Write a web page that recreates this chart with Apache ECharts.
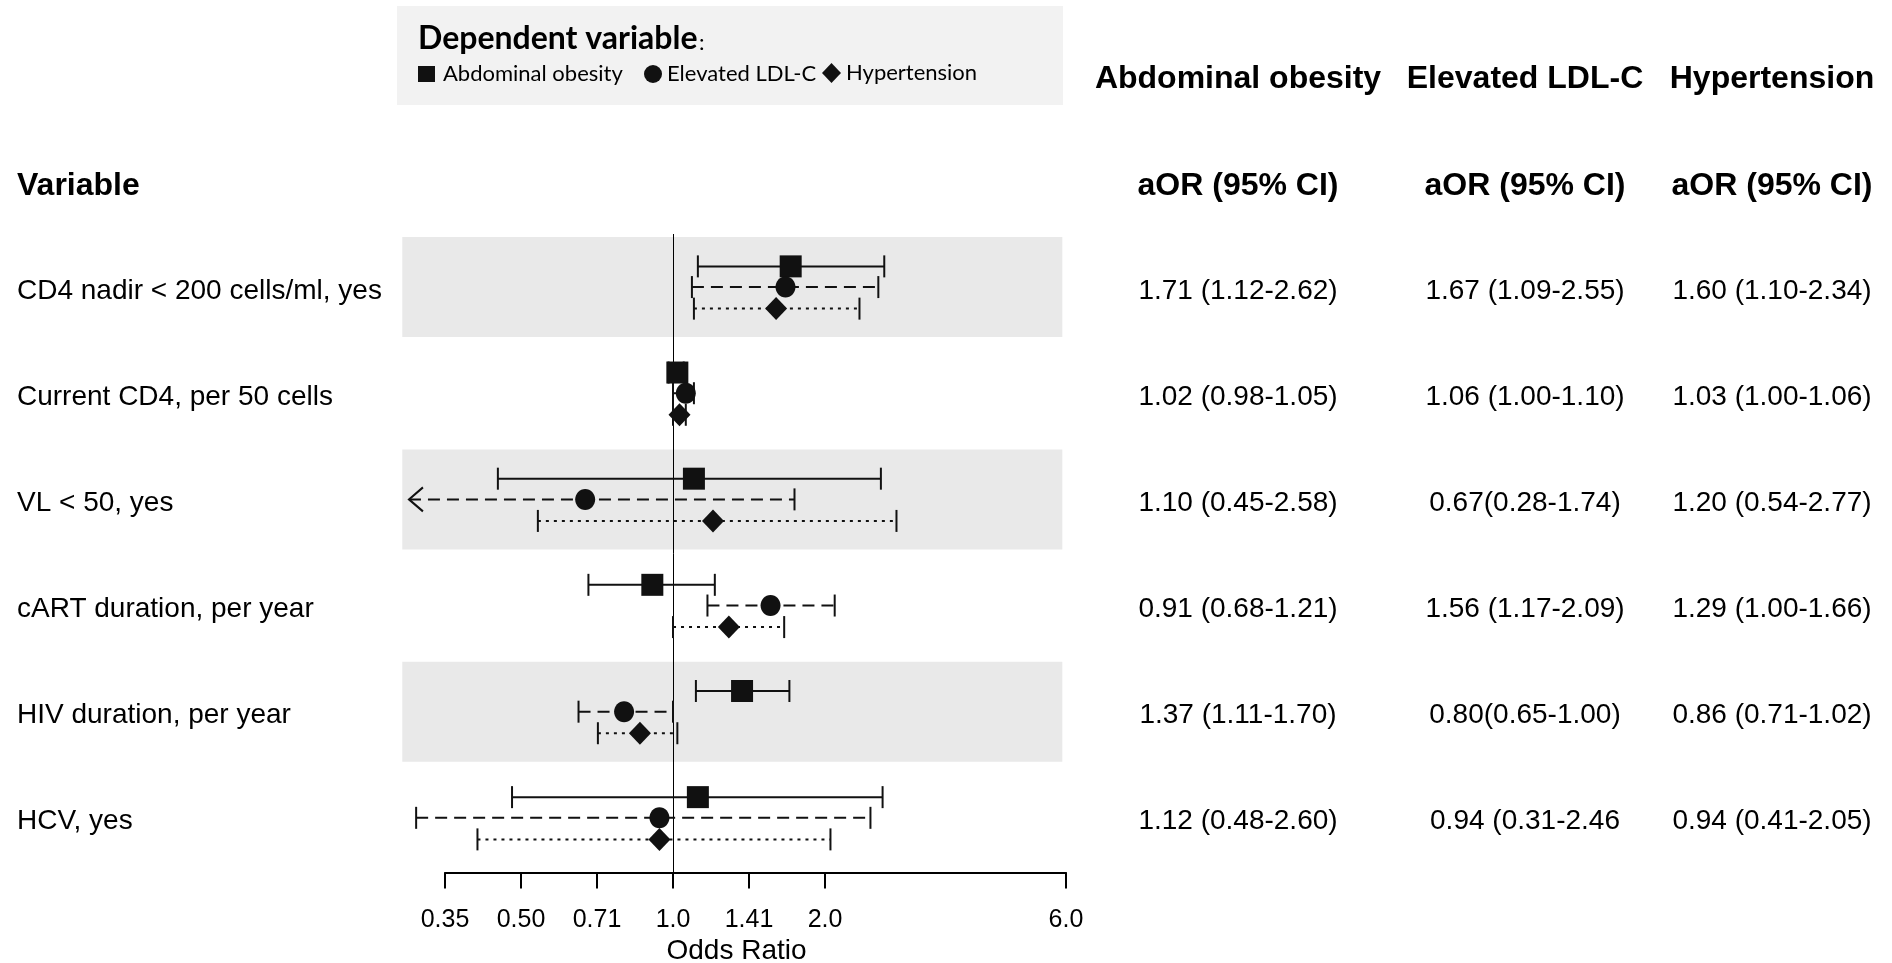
<!DOCTYPE html>
<html><head><meta charset="utf-8">
<script src="https://cdn.jsdelivr.net/npm/echarts@6/dist/echarts.min.js"></script>
<style>html,body{margin:0;padding:0;background:#fff}#chart{width:1892px;height:963px}</style>
</head><body><div id="chart"></div>
<script>
// ---------- data ----------
const variables = ['CD4 nadir < 200 cells/ml, yes', 'Current CD4, per 50 cells', 'VL < 50, yes',
  'cART duration, per year', 'HIV duration, per year', 'HCV, yes'];
const outcomes = ['Abdominal obesity', 'Elevated LDL-C', 'Hypertension'];
const aoOR  = [1.71, 1.02, 1.10, 0.91, 1.37, 1.12];
const aoLo  = [1.12, 0.98, 0.45, 0.68, 1.11, 0.48];
const aoHi  = [2.62, 1.05, 2.58, 1.21, 1.70, 2.60];
const ldlOR = [1.67, 1.06, 0.67, 1.56, 0.80, 0.94];
const ldlLo = [1.09, 1.00, 0.28, 1.17, 0.65, 0.31];
const ldlHi = [2.55, 1.10, 1.74, 2.09, 1.00, 2.46];
const htOR  = [1.60, 1.03, 1.20, 1.29, 0.86, 0.94];
const htLo  = [1.10, 1.00, 0.54, 1.00, 0.71, 0.41];
const htHi  = [2.34, 1.06, 2.77, 1.66, 1.02, 2.05];
const aoText  = ['1.71 (1.12-2.62)', '1.02 (0.98-1.05)', '1.10 (0.45-2.58)', '0.91 (0.68-1.21)', '1.37 (1.11-1.70)', '1.12 (0.48-2.60)'];
const ldlText = ['1.67 (1.09-2.55)', '1.06 (1.00-1.10)', '0.67(0.28-1.74)', '1.56 (1.17-2.09)', '0.80(0.65-1.00)', '0.94 (0.31-2.46'];
const htText  = ['1.60 (1.10-2.34)', '1.03 (1.00-1.06)', '1.20 (0.54-2.77)', '1.29 (1.00-1.66)', '0.86 (0.71-1.02)', '0.94 (0.41-2.05)'];
const xTickValues = [0.3536, 0.5, 0.7071, 1, 1.4142, 2, 6];
const xTickLabels = ['0.35', '0.50', '0.71', '1.0', '1.41', '2.0', '6.0'];
const refValue = 1;
const bandRows = [0, 2, 4];

// ---------- presentation ----------
const ORs = [aoOR, ldlOR, htOR], LOs = [aoLo, ldlLo, htLo], HIs = [aoHi, ldlHi, htHi];
const texts = [aoText, ldlText, htText];
const labelShift = 0.035;
const labelPos = variables.map((v, i) => i + labelShift);
const clipMin = 0.30;
const rowOffsets = [-0.195, 0, 0.203];
const lineDashes = [null, [12, 7], [3, 5]];
const ink = '#111';
const yMin = -0.5, yMax = 5.515;
const arial = '"Liberation Sans", Arial, sans-serif';
const calib = 'Lato, "Noto Sans", sans-serif';

function errorSeries(k) {
  return {
    type: 'custom', name: outcomes[k], clip: false, z: 5,
    itemStyle: { color: ink },
    encode: { x: [0, 2, 3], y: 1 },
    data: variables.map((v, i) => [ORs[k][i], i, LOs[k][i], HIs[k][i]]),
    renderItem: function (params, api) {
      const row = api.value(1) + rowOffsets[k];
      const or = api.value(0), lo = api.value(2), hi = api.value(3);
      const arrow = lo < clipMin;
      const a = api.coord([arrow ? clipMin : lo, row]);
      const b = api.coord([hi, row]);
      const m = api.coord([or, row]);
      const c = 11;
      const ch = [
        { type: 'line', shape: { x1: a[0], y1: a[1], x2: b[0], y2: b[1] },
          style: { stroke: ink, lineWidth: 2, lineDash: lineDashes[k] } },
        { type: 'line', shape: { x1: b[0], y1: b[1] - c, x2: b[0], y2: b[1] + c },
          style: { stroke: ink, lineWidth: 2 } }
      ];
      if (arrow) {
        ch.push({ type: 'polyline', shape: { points: [[a[0] + 14, a[1] - 12], [a[0], a[1]], [a[0] + 14, a[1] + 12]] },
          style: { stroke: ink, lineWidth: 2, fill: null } });
      } else {
        ch.push({ type: 'line', shape: { x1: a[0], y1: a[1] - c, x2: a[0], y2: a[1] + c },
          style: { stroke: ink, lineWidth: 2 } });
      }
      if (k === 0) {
        ch.push({ type: 'rect', shape: { x: m[0] - 11, y: m[1] - 11, width: 22, height: 22 }, style: { fill: ink } });
      } else if (k === 1) {
        ch.push({ type: 'ellipse', shape: { cx: m[0], cy: m[1], rx: 10, ry: 10.5 }, style: { fill: ink } });
      } else {
        ch.push({ type: 'polygon', shape: { points: [[m[0], m[1] - 11.5], [m[0] + 11, m[1]], [m[0], m[1] + 11.5], [m[0] - 11, m[1]]] }, style: { fill: ink } });
      }
      return { type: 'group', children: ch };
    }
  };
}

function yAxisBase(extra) {
  return Object.assign({
    type: 'value', inverse: true, min: yMin, max: yMax,
    axisLine: { show: false }, axisTick: { show: false }, splitLine: { show: false }
  }, extra);
}
const colCenters = [1238, 1525, 1772];
const plotRight = 1066;

const rightAxes = texts.map((t, k) => yAxisBase({
  position: 'right',
  axisLabel: {
    customValues: labelPos, align: 'center', margin: colCenters[k] - plotRight,
    fontSize: 28, fontFamily: arial, color: '#000',
    formatter: v => t[Math.round(v)]
  }
}));

const headerText = (txt, x, y, align) => ({
  type: 'text', x: x, y: y, silent: true,
  style: { text: txt, fontSize: 32, fontWeight: 'bold', fontFamily: arial, fill: '#000',
    align: align || 'center', verticalAlign: 'middle' }
});

const option = {
  backgroundColor: '#fff',
  animation: false,
  grid: { left: 445, right: 1892 - plotRight, top: 234, bottom: 90.5, outerBoundsMode: 'none', containLabel: false },
  legend: [
    { data: [{ name: outcomes[0], icon: 'rect' }], left: 418, top: 63, itemWidth: 17, itemHeight: 16, padding: 0,
      selectedMode: false, textStyle: { fontSize: 22, fontFamily: calib, color: '#000', padding: [0, 0, 0, 3] } },
    { data: [{ name: outcomes[1], icon: 'circle' }], left: 644, top: 63, itemWidth: 18, itemHeight: 18, padding: 0,
      selectedMode: false, textStyle: { fontSize: 22, fontFamily: calib, color: '#000' } },
    { data: [{ name: outcomes[2], icon: 'diamond' }], left: 822, top: 62, itemWidth: 19, itemHeight: 20, padding: 0,
      selectedMode: false, textStyle: { fontSize: 22, fontFamily: calib, color: '#000' } }
  ],
  graphic: [
    { type: 'rect', z: -10, silent: true, shape: { x: 397, y: 6, width: 666, height: 99 }, style: { fill: '#f2f2f2' } },
    { type: 'text', x: 418, y: 39, silent: true,
      style: { text: 'Dependent variable', font: 'bold 32px Lato, "Noto Sans", sans-serif', fill: '#000',
        align: 'left', verticalAlign: 'middle' } },
    { type: 'text', x: 699, y: 43, silent: true,
      style: { text: ':', font: '22px Lato, "Noto Sans", sans-serif', fill: '#000',
        align: 'left', verticalAlign: 'middle' } },
    headerText('Variable', 17, 186, 'left'),
    headerText(outcomes[0], colCenters[0], 79),
    headerText(outcomes[1], colCenters[1], 79),
    headerText(outcomes[2], colCenters[2], 79),
    headerText('aOR (95% CI)', colCenters[0], 186),
    headerText('aOR (95% CI)', colCenters[1], 186),
    headerText('aOR (95% CI)', colCenters[2], 186)
  ],
  xAxis: {
    type: 'log', logBase: 2, min: xTickValues[0], max: xTickValues[xTickValues.length - 1],
    name: 'Odds Ratio', nameLocation: 'middle', nameGap: 62,
    nameTextStyle: { fontSize: 28, fontFamily: arial, color: '#000', padding: [0, 38, 0, 0] },
    axisLine: { show: true, onZero: false, lineStyle: { color: '#000', width: 2 } },
    axisTick: { show: true, length: 16, customValues: xTickValues, lineStyle: { color: '#000', width: 2 } },
    axisLabel: { customValues: xTickValues, margin: 35, fontSize: 25, fontFamily: arial, color: '#000',
      formatter: v => xTickLabels[xTickValues.findIndex(t => Math.abs(t - v) < 1e-3)] },
    splitLine: { show: false }, minorTick: { show: false }
  },
  yAxis: [
    yAxisBase({
      position: 'left',
      axisLabel: { customValues: labelPos, align: 'left', margin: 445 - 17, fontSize: 28, fontFamily: arial, color: '#000',
        formatter: v => variables[Math.round(v)] }
    })
  ].concat(rightAxes),
  series: [
    {
      type: 'custom', z: 1, silent: true, clip: false,
      encode: { x: 0, y: 1 },
      data: bandRows.map(r => [refValue, r]),
      renderItem: function (params, api) {
        const r = api.value(1);
        const p1 = api.coord([0.291, r - 0.471]);
        const p2 = api.coord([5.9, r + 0.471]);
        return { type: 'rect', shape: { x: p1[0], y: p1[1], width: p2[0] - p1[0], height: p2[1] - p1[1] },
          style: { fill: '#e9e9e9' } };
      }
    },
    {
      type: 'custom', z: 3, silent: true, clip: false,
      encode: { x: 0 },
      data: [[refValue]],
      renderItem: function (params, api) {
        const cs = params.coordSys;
        const x = Math.round(api.coord([api.value(0), 0])[0]) + 0.5;
        return { type: 'line', shape: { x1: x, y1: cs.y, x2: x, y2: cs.y + cs.height },
          style: { stroke: '#000', lineWidth: 1 } };
      }
    },
    errorSeries(0), errorSeries(1), errorSeries(2)
  ]
};
const chart = echarts.init(document.getElementById('chart'));
chart.setOption(option);
</script>
</body></html>
